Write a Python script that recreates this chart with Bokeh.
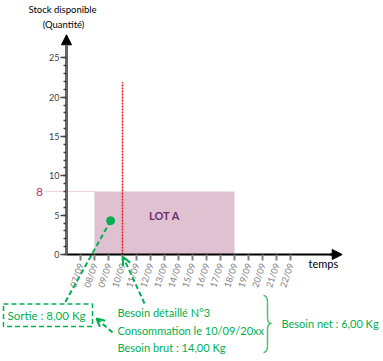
from bokeh.plotting import figure
from bokeh.models import Range1d, LinearAxis, FixedTicker, Arrow, NormalHead, OpenHead, Label
from bokeh.embed import file_html
from bokeh.resources import INLINE

# ---- data ----
days = list(range(7, 23))
day_labels = ["07/09", "08/09", "09/09", "10/09", "11/09", "12/09", "13/09", "14/09",
              "15/09", "16/09", "17/09", "18/09", "19/09", "20/09", "21/09", "22/09"]
y_major = [0, 5, 10, 15, 20, 25]
y_minor = list(range(0, 26))
lot_name = "LOT A"
lot_start = 8
lot_end = 18
lot_qty = 8
consumption_day = 10
consumption_line_top = 21.9
sortie_point_x = [9.15]
sortie_point_y = [4.3]

GREEN = "#00b050"
FONT = "Lato"

# pixel helpers (picture px -> data), used only for annotation placement
def X(px):
    return 7 + (px - 80) / 14.0

def Y(py):
    return (254 - py) / 7.868

W, H = 383, 361
p = figure(width=W, height=H, output_backend="svg", toolbar_location=None,
           x_range=Range1d(X(0), X(W)), y_range=Range1d(Y(H), Y(0)),
           x_axis_type=None, y_axis_type=None, min_border=0)
p.outline_line_color = None
p.background_fill_color = "white"

# ---- lot rectangle ----
p.quad(left=[lot_start], right=[lot_end], bottom=[0], top=[lot_qty],
       fill_color="#e0c1d1", line_color=None)
p.add_layout(Label(x=(lot_start + lot_end) / 2, y=5.0, text=lot_name, text_align="center",
                   text_baseline="middle", text_font=FONT, text_font_size="11px",
                   text_font_style="bold", text_color="#6a2d6e"))

# horizontal dotted line to the quantity 8
p.segment(x0=[X(45)], y0=[lot_qty], x1=[lot_start], y1=[lot_qty],
          line_color="#e0a0c4", line_width=1, line_dash="1 1")
p.add_layout(Label(x=X(39), y=lot_qty, text=str(lot_qty), text_align="center",
                   text_baseline="middle", text_font=FONT, text_font_size="12px",
                   text_color="#c0306a"))

# consumption day red dotted line
p.segment(x0=[consumption_day], y0=[0], x1=[consumption_day], y1=[consumption_line_top],
          line_color="#e01818", line_width=1.5, line_dash="2 1")

# ---- axes ----
yaxis = LinearAxis(fixed_location=6, bounds=(0, 26.8),
                   ticker=FixedTicker(ticks=y_major, minor_ticks=y_minor))
yaxis.axis_line_color = "#666666"
yaxis.axis_line_width = 3
yaxis.major_tick_line_color = "#444444"
yaxis.major_tick_line_width = 1.5
yaxis.major_tick_out = 6
yaxis.major_tick_in = 0
yaxis.minor_tick_line_color = "#444444"
yaxis.minor_tick_line_width = 1.5
yaxis.minor_tick_out = 3
yaxis.minor_tick_in = 0
yaxis.major_label_standoff = 1
yaxis.major_label_text_font = FONT
yaxis.major_label_text_font_size = "9px"
yaxis.major_label_text_color = "#404040"
p.add_layout(yaxis, "left")

xaxis = LinearAxis(fixed_location=0, bounds=(6, 25.0), ticker=FixedTicker(ticks=days, minor_ticks=[]))
xaxis.major_label_overrides = {d: lab for d, lab in zip(days, day_labels)}
xaxis.axis_line_color = "black"
xaxis.axis_line_width = 2
xaxis.major_tick_line_color = "#808080"
xaxis.major_tick_line_width = 2
xaxis.major_tick_out = 6
xaxis.major_tick_in = 0
xaxis.major_label_orientation = 1.25
xaxis.major_label_standoff = 3
xaxis.major_label_text_font = FONT
xaxis.major_label_text_font_size = "9px"
xaxis.major_label_text_color = "#808080"
p.add_layout(xaxis, "below")

# axis arrow heads
p.add_layout(Arrow(end=NormalHead(size=10, fill_color="black", line_color="black", line_width=1),
                   x_start=24.8, y_start=0, x_end=X(341.7), y_end=0,
                   line_color="black", line_width=2))
p.add_layout(Arrow(end=NormalHead(size=10, fill_color="black", line_color="black", line_width=1),
                   x_start=6, y_start=26.0, x_end=6, y_end=Y(34.3),
                   line_color="#666666", line_width=3))

# axis titles
p.add_layout(Label(x=X(62), y=Y(8.5), text="Stock disponible", text_align="center",
                   text_baseline="middle", text_font=FONT, text_font_size="9.5px", text_color="black"))
p.add_layout(Label(x=X(63), y=Y(24), text="(Quantité)", text_align="center",
                   text_baseline="middle", text_font=FONT, text_font_size="9.5px", text_color="black"))
p.add_layout(Label(x=X(308), y=Y(263), text="temps", text_align="left",
                   text_baseline="middle", text_font=FONT, text_font_size="11px", text_color="black"))

# ---- callouts ----
p.scatter(x=sortie_point_x, y=sortie_point_y, size=8, color=GREEN)
p.line(x=[sortie_point_x[0], X(64)], y=[sortie_point_y[0], Y(303)],
       line_color=GREEN, line_width=2, line_dash="5 3")

# Sortie box
p.quad(left=[X(3)], right=[X(92)], bottom=[Y(326)], top=[Y(303.5)],
       fill_color=None, line_color=GREEN, line_width=1.5, line_dash="5 3")
p.add_layout(Label(x=X(7), y=Y(315), text="Sortie : 8,00 Kg", text_align="left",
                   text_baseline="middle", text_font=FONT, text_font_size="11.5px", text_color=GREEN))

# arrow to consumption day
p.add_layout(Arrow(end=OpenHead(size=8, line_color=GREEN, line_width=2),
                   x_start=X(144), y_start=Y(303), x_end=consumption_day + 0.05, y_end=Y(256.5),
                   line_color=GREEN, line_width=2, line_dash="5 3"))
# arrow to sortie box
p.add_layout(Arrow(end=OpenHead(size=8, line_color=GREEN, line_width=2),
                   x_start=X(112), y_start=Y(332), x_end=X(96), y_end=Y(318),
                   line_color=GREEN, line_width=2, line_dash="5 3"))

texts = ["Besoin détaillé N°3", "Consommation le 10/09/20xx", "Besoin brut : 14,00 Kg"]
for t, py in zip(texts, [312, 330, 347]):
    p.add_layout(Label(x=X(117), y=Y(py), text=t, text_align="left", text_baseline="middle",
                       text_font=FONT, text_font_size="11px", text_color=GREEN))

# brace
BR = "#4cc070"
p.quadratic(x0=[X(263), X(267), X(271), X(267)], y0=[Y(295), Y(317), Y(323), Y(345)],
            x1=[X(267), X(271), X(267), X(263)], y1=[Y(302), Y(323), Y(329), Y(352)],
            cx=[X(267), X(267), X(267), X(267)], cy=[Y(295), Y(323), Y(323), Y(352)],
            line_color=BR, line_width=1.5)
p.segment(x0=[X(267), X(267)], y0=[Y(302), Y(329)], x1=[X(267), X(267)], y1=[Y(317), Y(345)],
          line_color=BR, line_width=1.5)
p.add_layout(Label(x=X(281), y=Y(323), text="Besoin net : 6,00 Kg", text_align="left",
                   text_baseline="middle", text_font=FONT, text_font_size="11px", text_color=GREEN))

open("out.html", "w").write(file_html(p, INLINE))
